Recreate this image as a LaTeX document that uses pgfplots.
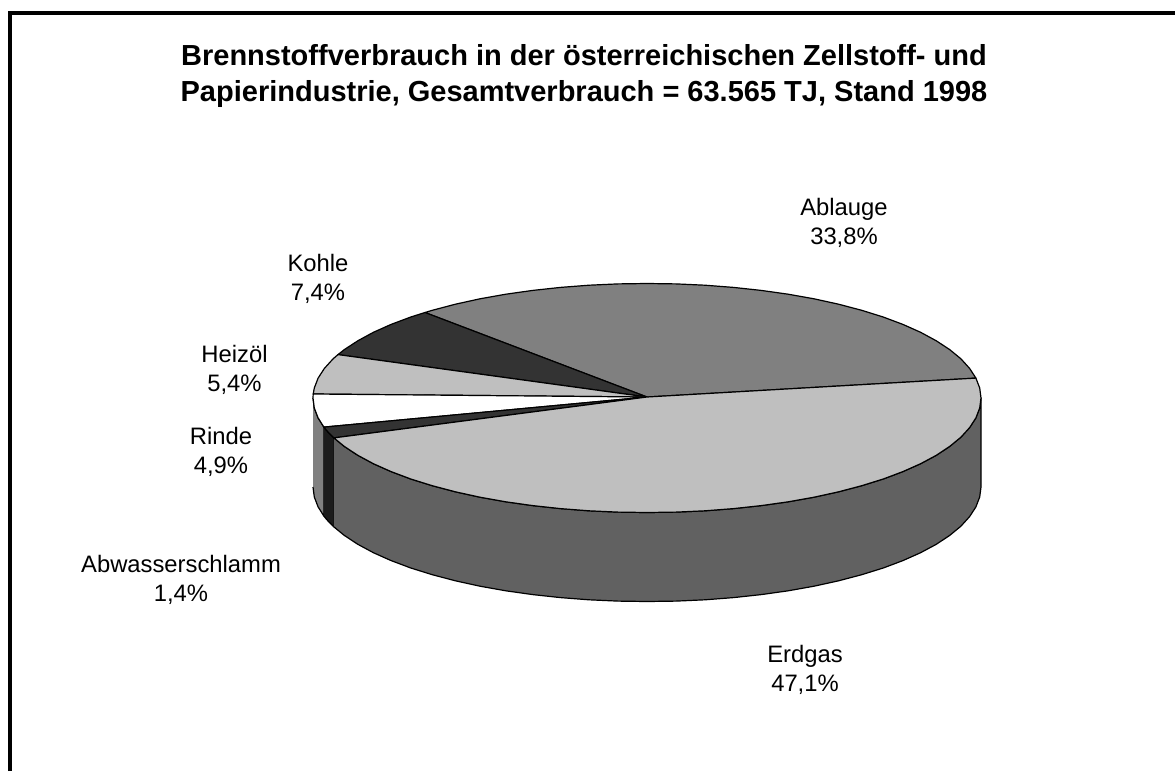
\documentclass[border=0pt]{standalone}
\usepackage{pgfplots}
\usepackage{fontspec}
\setmainfont{Liberation Sans}
\pgfplotsset{compat=1.18}
\newcommand{\lab}{\fontsize{23.8}{29}\selectfont}
\begin{document}
\begin{tikzpicture}
\begin{axis}[
    scale only axis,
    width=1175pt, height=771pt,
    xmin=0, xmax=1175,
    ymin=0, ymax=771,
    y dir=reverse,
    hide axis,
    every axis plot/.append style={no markers, line join=round},
]
% page background
\addplot[draw=none, fill=white] coordinates {(0,0) (1175,0) (1175,771) (0,771)};
% frame, left and top only
\addplot[black, line width=4pt, line join=miter] coordinates {(10,771) (10,13) (1175,13)};
% sides: Rinde, Abwasserschlamm, Erdgas
\addplot[draw=black, fill=black!50, line width=1.2pt] coordinates {
    (313,398) (314.3,408) (318.1,417.9) (323.9,427.1)
    (323.9,516.1) (318.1,506.9) (314.3,497) (313,487)};
\addplot[draw=black, fill=black!89, line width=1.2pt] coordinates {
    (323.9,427.1) (325.9,429.6) (329.3,433.4) (333.9,437.9)
    (333.9,526.9) (329.3,522.4) (325.9,518.6) (323.9,516.1)};
\addplot[draw=black, fill=black!62, line width=1.2pt] coordinates {
    (333.9,437.9) (344.3,446.4) (357.8,455.3) (373.4,463.7) (391.1,471.6) (410.8,479)
    (432.3,485.7) (455.4,491.8) (480,497.2) (505.8,501.8) (532.8,505.6) (560.5,508.6)
    (589,510.8) (617.9,512.1) (647,512.5) (676.1,512.1) (705,510.8) (733.5,508.6)
    (761.2,505.6) (788.2,501.8) (814,497.2) (838.6,491.8) (861.7,485.7) (883.2,479)
    (902.9,471.6) (920.6,463.7) (936.3,455.3) (949.7,446.4) (960.9,437.2) (969.6,427.6)
    (975.9,417.9) (979.7,408) (981,398)
    (981,487) (979.7,497) (975.9,506.9) (969.6,516.6) (960.9,526.2) (949.7,535.4)
    (936.3,544.3) (920.6,552.7) (902.9,560.6) (883.2,568) (861.7,574.7) (838.6,580.8)
    (814,586.2) (788.2,590.8) (761.2,594.6) (733.5,597.6) (705,599.8) (676.1,601.1)
    (647,601.5) (617.9,601.1) (589,599.8) (560.5,597.6) (532.8,594.6) (505.8,590.8)
    (480,586.2) (455.4,580.8) (432.3,574.7) (410.8,568) (391.1,560.6) (373.4,552.7)
    (357.8,544.3) (344.3,535.4) (333.9,526.9)};
% top faces
% Ablauge
\addplot[draw=black, fill=black!50, line width=1.2pt] coordinates {
    (647,397) (975.9,378.1) (969.6,368.4) (960.9,358.8) (949.7,349.6) (936.3,340.8)
    (920.6,332.3) (902.9,324.4) (883.2,317) (861.7,310.3) (838.6,304.2) (814,298.8)
    (788.2,294.2) (761.2,290.4) (733.5,287.4) (705,285.2) (676.1,283.9) (647,283.5)
    (617.9,283.9) (589,285.2) (560.5,287.4) (532.8,290.4) (505.8,294.2) (480,298.8)
    (455.4,304.2) (432.3,310.3) (425,312.5) (647,397)};
% Kohle
\addplot[draw=black, fill=black!80, line width=1.2pt] coordinates {
    (647,397) (425,312.5) (410.8,317) (391.1,324.4) (373.4,332.3) (357.8,340.8)
    (344.3,349.6) (338,354.6) (647,397)};
% Heizoel
\addplot[draw=black, fill=black!25, line width=1.2pt] coordinates {
    (647,397) (338,354.6) (333.1,358.8) (324.4,368.4) (318.1,378.1) (314.3,388)
    (313.2,394) (647,397)};
% Rinde
\addplot[draw=black, fill=white, line width=1.2pt] coordinates {
    (647,397) (313.2,394) (313,398) (314.3,408) (318.1,417.9) (323.9,427.1) (647,397)};
% Abwasserschlamm
\addplot[draw=black, fill=black!80, line width=1.2pt] coordinates {
    (647,397) (323.9,427.1) (325.9,429.6) (329.3,433.4) (333.9,437.9) (647,397)};
% Erdgas
\addplot[draw=black, fill=black!25, line width=1.2pt] coordinates {
    (647,397) (333.9,437.9) (344.3,446.4) (357.8,455.3) (373.4,463.7) (391.1,471.6)
    (410.8,479) (432.3,485.7) (455.4,491.8) (480,497.2) (505.8,501.8) (532.8,505.6)
    (560.5,508.6) (589,510.8) (617.9,512.1) (647,512.5) (676.1,512.1) (705,510.8)
    (733.5,508.6) (761.2,505.6) (788.2,501.8) (814,497.2) (838.6,491.8) (861.7,485.7)
    (883.2,479) (902.9,471.6) (920.6,463.7) (936.3,455.3) (949.7,446.4) (960.9,437.2)
    (969.6,427.6) (975.9,417.9) (979.7,408) (981,398) (979.7,388) (975.9,378.1) (647,397)};
% title
\node[align=center, font=\fontsize{29}{36}\selectfont\bfseries] at (axis cs:584,76.5)
    {Brennstoffverbrauch in der österreichischen Zellstoff- und\\
     Papierindustrie, Gesamtverbrauch = 63.565 TJ, Stand 1998};
% labels
\node[align=center, font=\lab] at (axis cs:844,222.5) {Ablauge\\33,8\%};
\node[align=center, font=\lab] at (axis cs:318,279) {Kohle\\7,4\%};
\node[align=center, font=\lab] at (axis cs:234.5,370) {Heizöl\\5,4\%};
\node[align=center, font=\lab] at (axis cs:221,451.5) {Rinde\\4,9\%};
\node[align=center, font=\lab] at (axis cs:181,579.5) {Abwasserschlamm\\1,4\%};
\node[align=center, font=\lab] at (axis cs:805,670) {Erdgas\\47,1\%};
\end{axis}
\end{tikzpicture}
\end{document}
